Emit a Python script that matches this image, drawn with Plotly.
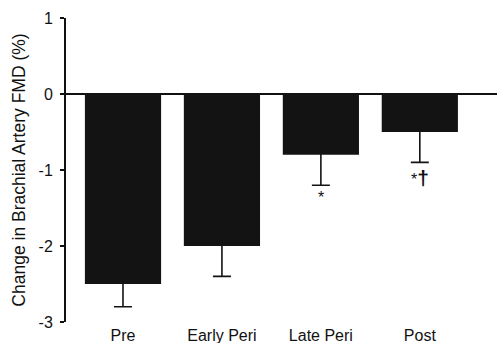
import plotly.graph_objects as go

# Change in brachial artery FMD by phase (mean, lower SE)
phases = ["Pre", "Early Peri", "Late Peri", "Post"]
fmd_change = [-2.5, -2.0, -0.8, -0.5]
err_lower = [0.3, 0.4, 0.4, 0.4]
sig_marks = ["", "", "*", "*<span style='font-size:21px'><b>†</b></span>"]
y_ticks = [1, 0, -1, -2, -3]
y_tick_text = ["1", "0", "-1", "-2", "-3"]

BAR_COLOR = "#131313"
FONT = "Liberation Sans, Arial, sans-serif"

fig = go.Figure()
fig.add_trace(go.Bar(
    x=phases,
    y=fmd_change,
    width=0.77,
    marker=dict(color=BAR_COLOR, line=dict(width=0)),
    showlegend=False,
    hoverinfo="skip",
))

# one-sided (downward) error whiskers: anchored at the whisker tip,
# the stem runs up and ends hidden inside the bar
tips = [v - e for v, e in zip(fmd_change, err_lower)]
fig.add_trace(go.Scatter(
    x=phases,
    y=tips,
    mode="markers",
    marker=dict(size=0, opacity=0),
    error_y=dict(
        type="data", symmetric=False,
        array=[e + 0.06 for e in err_lower], arrayminus=[0] * len(phases),
        color=BAR_COLOR, thickness=1.6, width=9,
    ),
    showlegend=False,
    hoverinfo="skip",
))

# significance markers just below each error cap
for p, t, s in zip(phases, tips, sig_marks):
    if s:
        fig.add_annotation(
            x=p, y=t, yshift=-2, text=s, showarrow=False,
            yanchor="top", xanchor="center",
            font=dict(family=FONT, size=16, color="#111"),
        )

fig.update_layout(
    width=497, height=343,
    margin=dict(l=66, r=0, t=18, b=21),
    paper_bgcolor="white", plot_bgcolor="white",
    font=dict(family=FONT, size=16, color="#111"),
    xaxis=dict(
        type="category",
        range=[-0.576, 3.78],
        showline=False, showgrid=False, zeroline=False,
        ticks="", ticklabelstandoff=2,
        tickfont=dict(size=16),
    ),
    yaxis=dict(
        range=[-3, 1],
        tickvals=y_ticks, ticktext=y_tick_text,
        showline=True, linewidth=2, linecolor="#111",
        showgrid=False,
        zeroline=True, zerolinewidth=2, zerolinecolor="#111",
        ticks="outside", ticklen=4, tickwidth=1.5, tickcolor="#111",
        ticklabelstandoff=4,
        tickfont=dict(size=16),
        title=dict(text="Change in Brachial Artery FMD (%)", font=dict(size=17.5), standoff=8),
    ),
)

fig.write_html("out.html")
